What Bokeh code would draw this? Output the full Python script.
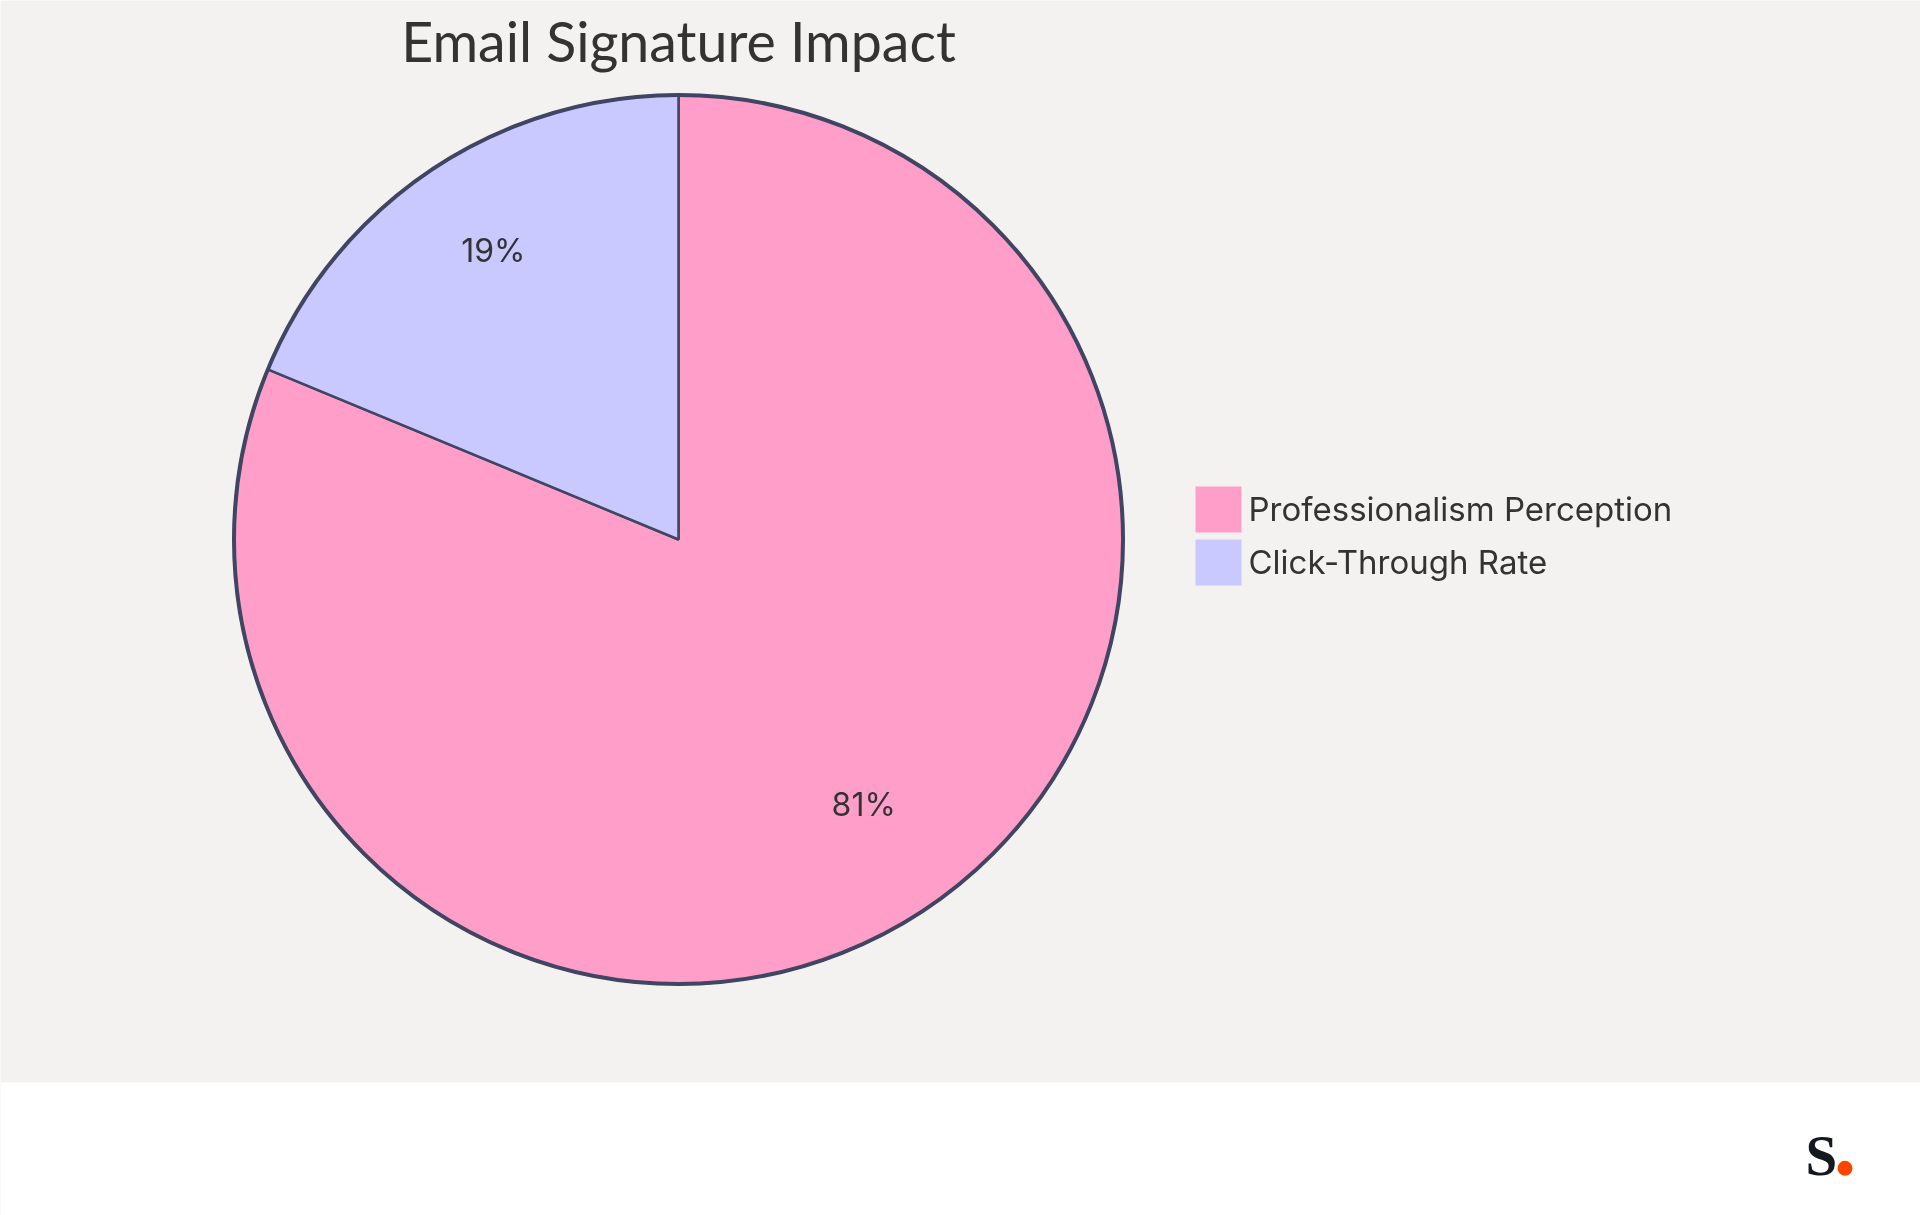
import math
from bokeh.plotting import figure
from bokeh.models import Range1d
from bokeh.core.properties import value
from bokeh.embed import file_html
from bokeh.resources import INLINE

title = "Email Signature Impact"
categories = ["Professionalism Perception", "Click-Through Rate"]
shares = [65, 15]
colors = ["#ff9fc9", "#c9c9ff"]

W, H = 1920, 1215
BG = "#f4f2f0"
STROKE = "#3f4562"
TEXT = "#333333"
FONT = value("Inter")

def Y(py):
    return H - py

p = figure(width=W, height=H, output_backend="svg", toolbar_location=None,
           x_range=Range1d(0, W), y_range=Range1d(0, H), min_border=0,
           x_axis_type=None, y_axis_type=None,
           background_fill_color=BG, border_fill_color=BG, outline_line_color=None,
           styles={"position": "fixed", "left": "0px", "top": "0px"})
p.grid.visible = False

# white footer band and logo
p.quad(left=[0], right=[W], top=[Y(1082)], bottom=[0], fill_color="white", line_color=None)
p.text([1805], [Y(1155)], text=["S"], text_font=value("Liberation Serif"), text_font_style="bold",
       text_font_size="57px", text_color="#14181f", text_align="left", text_baseline="middle")
p.circle([1844.5], [Y(1167.7)], radius=7.5, fill_color="#ff4400", line_color=None)

# pie
cx, cy, r = 678, 539, 444.5
total = sum(shares)
a = math.pi / 2
for s, c in zip(shares, colors):
    b = a - 2 * math.pi * s / total
    p.wedge([cx], [Y(cy)], radius=r, start_angle=b, end_angle=a, direction="anticlock",
            fill_color=c, line_color=STROKE, line_width=2.5)
    mid = (a + b) / 2
    p.text([cx + 0.75 * r * math.cos(mid)], [Y(cy) + 0.75 * r * math.sin(mid) + 12],
           text=[f"{round(100 * s / total)}%"], text_font=FONT, text_font_size="32px", text_color=TEXT,
           text_align="center", text_baseline="middle")
    a = b
p.circle([cx], [Y(cy)], radius=r, fill_color=None, line_color=STROKE, line_width=4)

# title
p.text([678], [Y(40)], text=[title], text_font=value("Lato"), text_font_size="55.5px", text_color=TEXT,
       text_align="center", text_baseline="middle")

# legend
for i, (n, c) in enumerate(zip(categories, colors)):
    top = 486 + i * 53
    p.quad(left=[1195], right=[1241], top=[Y(top)], bottom=[Y(top + 46)],
           fill_color=c, line_color=None)
    p.text([1248], [Y(top + 22)], text=[n], text_font=FONT, text_font_size="33px",
           text_color=TEXT, text_align="left", text_baseline="middle")

open("out.html", "w").write(file_html(p, INLINE))
